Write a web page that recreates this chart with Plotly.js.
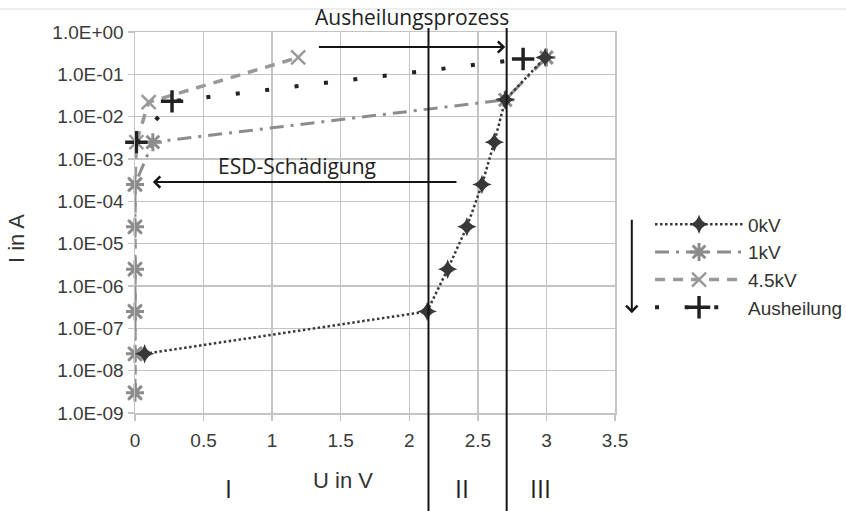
<!DOCTYPE html>
<html>
<head>
<meta charset="utf-8">
<script src="https://cdn.plot.ly/plotly-3.0.1.min.js"></script>
<style>
  html, body { margin: 0; padding: 0; background: #fff; }
  #chart { width: 846px; height: 511px; }
</style>
</head>
<body>
<div id="chart"></div>
<script>
// I-U curves of the diode before/after ESD stress and after annealing
const seriesNames = ["0kV", "1kV", "4.5kV", "Ausheilung"];

const u0kV = [0.07, 2.13, 2.28, 2.42, 2.53, 2.62, 2.70, 2.99];
const i0kV = [2.5e-8, 2.5e-7, 2.5e-6, 2.5e-5, 2.5e-4, 2.5e-3, 2.5e-2, 2.5e-1];

const u1kV = [0, 0, 0, 0, 0, 0, 0.13, 2.70, 3.0];
const i1kV = [3e-9, 2.5e-8, 2.5e-7, 2.5e-6, 2.5e-5, 2.5e-4, 2.5e-3, 2.5e-2, 2.5e-1];

const u45kV = [0, 0, 0, 0, 0, 0, 0.01, 0.10, 1.19];
const i45kV = [3e-9, 2.5e-8, 2.5e-7, 2.5e-6, 2.5e-5, 2.5e-4, 2.5e-3, 2.2e-2, 2.5e-1];

const uAnneal = [0.01, 0.27, 2.83];
const iAnneal = [2.5e-3, 2.3e-2, 2.3e-1];

const currentTicks = [1, 1e-1, 1e-2, 1e-3, 1e-4, 1e-5, 1e-6, 1e-7, 1e-8, 1e-9];
const currentTickText = ["1.0E+00", "1.0E-01", "1.0E-02", "1.0E-03", "1.0E-04",
                         "1.0E-05", "1.0E-06", "1.0E-07", "1.0E-08", "1.0E-09"];

// region borders (I | II | III) in volts
const regionBorders = [2.14, 2.71];

const axisFont = { family: "Liberation Sans, Arial, sans-serif", size: 19, color: "#3a3a3a" };
const noteFont = { family: "Open Sans, Noto Sans, sans-serif", size: 21, color: "#222" };
const gridGray = "#c4c4c4";

const traces = [
  {
    name: seriesNames[2], x: u45kV, y: i45kV, mode: "lines+markers", legendrank: 3, cliponaxis: false,
    line: { color: "#999", width: 3.5, dash: "10px,8px" },
    marker: { symbol: "x-thin", size: 14, color: "#999", line: { color: "#999", width: 2.5 } }
  },
  {
    name: seriesNames[1], x: u1kV, y: i1kV, mode: "lines+markers", legendrank: 2, cliponaxis: false,
    line: { color: "#8c8c8c", width: 3, dash: "14px,7px,3px,7px" },
    marker: { symbol: "asterisk", size: 15, color: "#8c8c8c", line: { color: "#8c8c8c", width: 3 } }
  },
  {
    name: seriesNames[0], x: u0kV, y: i0kV, mode: "lines+markers", legendrank: 1, cliponaxis: false,
    line: { color: "#383838", width: 2.5, dash: "2.5px,2.5px" },
    marker: { symbol: "star-diamond", size: 14, color: "#383838" }
  },
  {
    name: seriesNames[3], x: uAnneal, y: iAnneal, mode: "lines+markers", legendrank: 4, cliponaxis: false,
    line: { color: "#222", width: 4, dash: "4px,25.6px" },
    marker: { symbol: "cross-thin", size: 16, color: "#222", line: { color: "#222", width: 3.5 } }
  }
];

const shapes = regionBorders.map(v => ({
  type: "line", xref: "x", yref: "paper", x0: v, x1: v, y0: -0.26, y1: 1.0105,
  line: { color: "#151515", width: 2 }
}));
// thin rule across the top of the figure
shapes.push({
  type: "line", xref: "paper", yref: "paper", x0: -0.3, x1: 1.5, y0: 1.0604, y1: 1.0604,
  line: { color: "#dcdcdc", width: 1 }
});

const arrowStyle = { text: "", showarrow: true, arrowhead: 4, arrowsize: 1.1, arrowwidth: 2, arrowcolor: "#151515" };

function label(text, x, y, font, extra) {
  return Object.assign({ text: text, xref: "paper", yref: "paper", x: x, y: y,
    xanchor: "center", yanchor: "middle", showarrow: false, font: font }, extra || {});
}

const titleFont = { family: axisFont.family, size: 22, color: "#333" };
const romanFont = { family: noteFont.family, size: 25, color: "#222" };

const annotations = [
  // Ausheilungsprozess arrow (annotation y on a log axis is given as log10)
  Object.assign({ xref: "x", yref: "y", axref: "x", ayref: "y", x: 2.70, y: -0.354, ax: 1.33, ay: -0.354 }, arrowStyle),
  // ESD-Schädigung arrow
  Object.assign({ xref: "x", yref: "y", axref: "x", ayref: "y", x: 0.13, y: -3.544, ax: 2.355, ay: -3.544 }, arrowStyle),
  // downward arrow next to the legend
  Object.assign({ xref: "paper", yref: "paper", x: 1.035, y: 0.262, ax: 0, ay: -95 }, arrowStyle),
  label("Ausheilungsprozess", 0.577, 1.039, noteFont),
  label("ESD-Schädigung", 0.3375, 0.648, noteFont),
  label("U in V", 0.433, -0.178, titleFont),
  label("I in A", -0.248, 0.459, titleFont, { textangle: -90 }),
  label("I", 0.194, -0.197, romanFont),
  label("II", 0.681, -0.197, romanFont),
  label("III", 0.844, -0.197, romanFont)
];

const layout = {
  width: 846, height: 511,
  margin: { l: 135, r: 231, t: 32, b: 98, autoexpand: false },
  paper_bgcolor: "#fff", plot_bgcolor: "#fff",
  showlegend: true,
  legend: {
    x: 1.073, y: 0.545, xanchor: "left", yanchor: "top",
    font: { family: axisFont.family, size: 19, color: "#333" },
    itemwidth: 88, bgcolor: "rgba(0,0,0,0)", traceorder: "normal"
  },
  xaxis: {
    range: [0, 3.5], tick0: 0, dtick: 0.5, zeroline: false,
    showgrid: true, gridcolor: gridGray, gridwidth: 1.5,
    showline: true, linecolor: gridGray, linewidth: 1.5, mirror: true,
    ticks: "outside", ticklen: 6, tickcolor: gridGray, tickwidth: 1.5,
    ticklabelstandoff: 4, tickfont: axisFont
  },
  yaxis: {
    type: "log", range: [-9, 0], tickvals: currentTicks, ticktext: currentTickText,
    showgrid: true, gridcolor: gridGray, gridwidth: 1.5, zeroline: false,
    showline: true, linecolor: gridGray, linewidth: 1.5, mirror: true,
    ticks: "outside", ticklen: 6, tickcolor: gridGray, tickwidth: 1.5,
    tickfont: axisFont
  },
  shapes: shapes,
  annotations: annotations
};

Plotly.newPlot("chart", traces, layout, { displayModeBar: false, staticPlot: true });
</script>
</body>
</html>
